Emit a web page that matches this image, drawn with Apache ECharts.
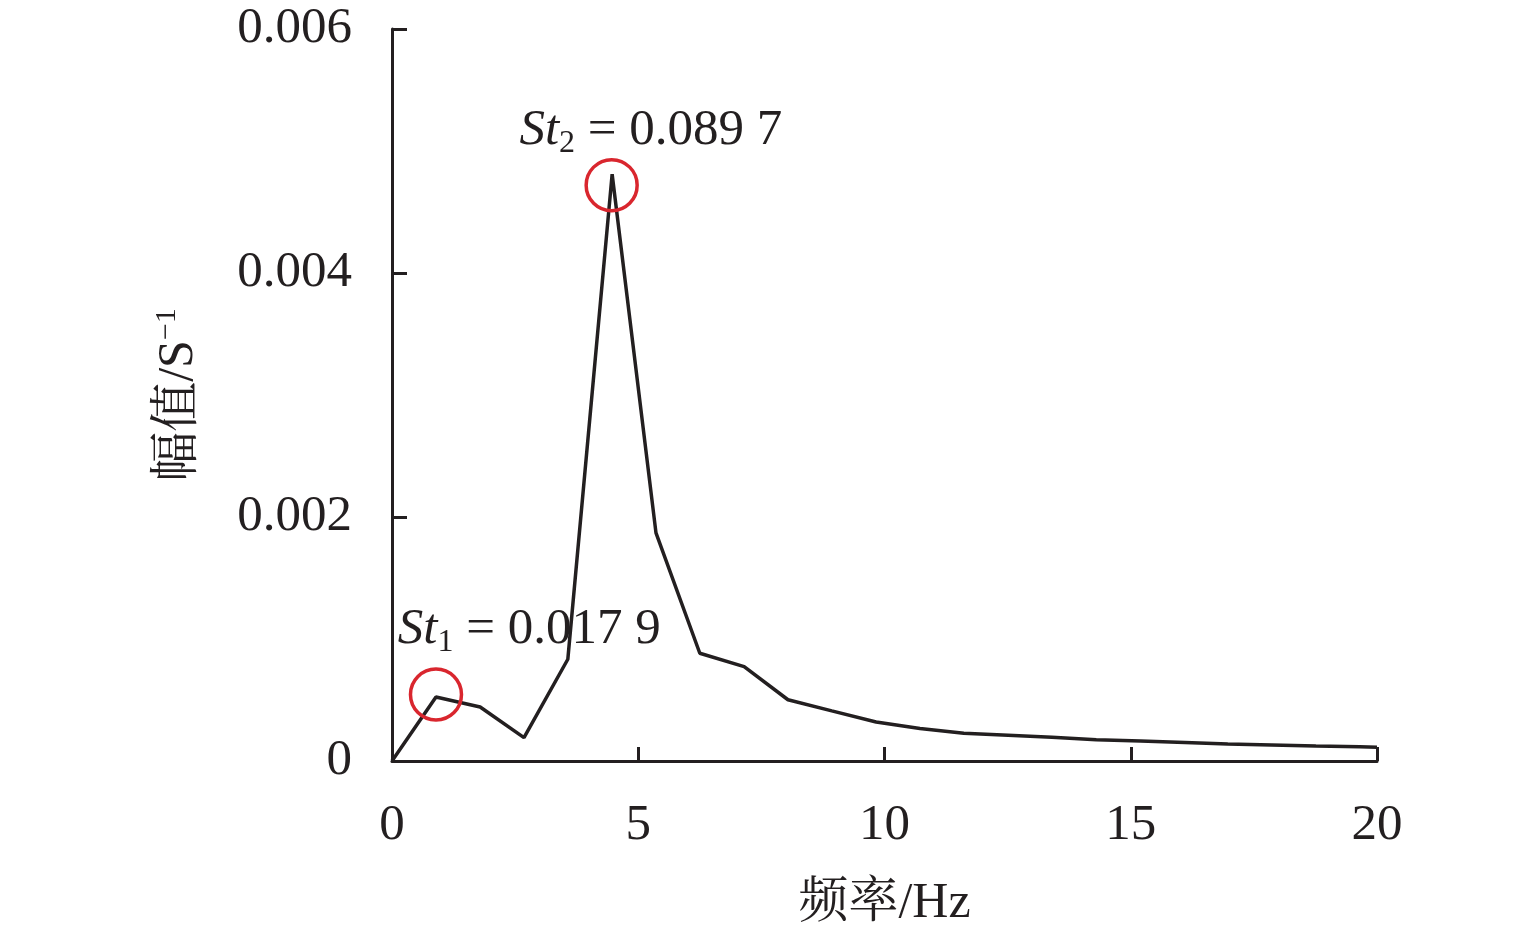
<!DOCTYPE html>
<html>
<head>
<meta charset="utf-8">
<script src="https://cdn.jsdelivr.net/npm/echarts@6/dist/echarts.min.js"></script>
<style>
html,body{margin:0;padding:0;background:#fff;}
#c{width:1535px;height:934px;}
</style>
</head>
<body>
<div id="c"></div>
<script>
// Data
var freq = [0, 0.893, 1.79, 2.68, 3.57, 4.47, 5.36, 6.25, 7.15, 8.04, 8.93, 9.83, 10.72, 11.61, 12.51, 13.4, 14.3, 15.2, 16.1, 16.97, 17.86, 18.76, 19.65, 20];
var amp = [0, 0.000525, 0.000443, 0.000192, 0.000834, 0.00481, 0.00187, 0.000883, 0.000774, 0.000502, 0.000411, 0.00032, 0.000266, 0.000227, 0.000211, 0.000194, 0.000175, 0.000164, 0.000151, 0.000139, 0.000131, 0.000123, 0.000116, 0.000112];
var circleX = [0.893, 4.46];
var circleY = [0.000545, 0.00472];
var stSub = ['1', '2'];
var stValue = ['0.017 9', '0.089 7'];
var xTicks = [0, 5, 10, 15, 20];
var yTicks = [0, 0.002, 0.004, 0.006];

var serif = "'Liberation Serif', 'Times New Roman', 'Noto Serif CJK SC', 'Noto Sans CJK SC', serif";
var ink = '#231f20';
var red = '#d9262e';

var lineData = freq.map(function (f, i) { return [f, amp[i]]; });
var labelPos = [[-11, -38], [-65, -27]];
var circData = circleX.map(function (x, i) {
  return {
    value: [x, circleY[i]],
    label: {
      show: true,
      position: labelPos[i],
      align: 'left',
      verticalAlign: 'middle',
      formatter: '{i|St}{s|' + stSub[i] + '}{n| = ' + stValue[i] + '}'
    }
  };
});

var chart = echarts.init(document.getElementById('c'));
chart.setOption({
  animation: false,
  backgroundColor: '#fff',
  grid: { left: 392, right: 158, top: 29, bottom: 173 },
  xAxis: {
    type: 'value',
    min: xTicks[0], max: xTicks[xTicks.length - 1], interval: 5,
    name: '频率/Hz',
    nameLocation: 'middle',
    nameGap: 118,
    nameTextStyle: { fontFamily: serif, fontSize: 50, color: ink },
    axisLine: { show: true, lineStyle: { color: ink, width: 3 } },
    axisTick: { show: true, inside: true, length: 14, lineStyle: { color: ink, width: 3 } },
    axisLabel: { fontFamily: serif, fontSize: 51, color: ink, margin: 39 },
    splitLine: { show: false }
  },
  yAxis: {
    type: 'value',
    min: yTicks[0], max: yTicks[yTicks.length - 1], interval: 0.002,
    name: '{a|幅值/S}{b|−1}',
    nameLocation: 'middle',
    nameGap: 186,
    nameTextStyle: {
      rich: {
        a: { fontFamily: serif, fontSize: 50, color: ink, lineHeight: 54, verticalAlign: 'middle' },
        b: { fontFamily: serif, fontSize: 30, color: ink, lineHeight: 30, verticalAlign: 'top' }
      }
    },
    axisLine: { show: true, lineStyle: { color: ink, width: 3 } },
    axisTick: { show: true, inside: true, length: 15, lineStyle: { color: ink, width: 3 } },
    axisLabel: { fontFamily: serif, fontSize: 51, color: ink, margin: 40 },
    splitLine: { show: false }
  },
  series: [
    {
      type: 'line',
      data: lineData,
      symbol: 'none',
      lineStyle: { color: ink, width: 3.5 },
      silent: true,
      z: 2
    },
    {
      type: 'scatter',
      data: circData,
      symbol: 'circle',
      symbolSize: 51,
      itemStyle: { color: 'rgba(0,0,0,0)', borderColor: red, borderWidth: 3.5, opacity: 1 },
      label: {
        rich: {
          i: { fontFamily: serif, fontStyle: 'italic', fontSize: 51, color: ink, lineHeight: 58, verticalAlign: 'middle' },
          s: { fontFamily: serif, fontSize: 32, color: ink, lineHeight: 32, verticalAlign: 'bottom' },
          n: { fontFamily: serif, fontSize: 51, color: ink, lineHeight: 58, verticalAlign: 'middle' }
        }
      },
      silent: true,
      z: 3
    }
  ]
});
</script>
</body>
</html>
